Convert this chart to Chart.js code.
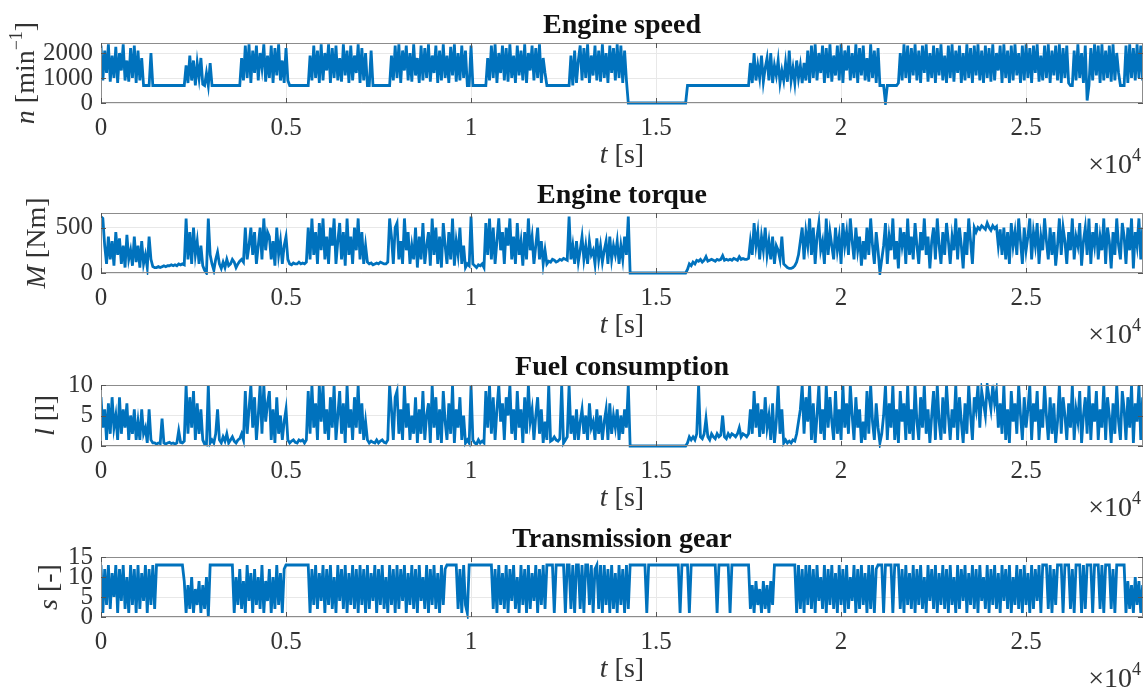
<!DOCTYPE html>
<html>
<head>
<meta charset="utf-8">
<title>Engine signals</title>
<script src="https://cdn.jsdelivr.net/npm/chart.js@4.4.1/dist/chart.umd.min.js"></script>
<style>
  body { margin: 0; background: #fff; }
  #wrap { position: relative; width: 1146px; height: 689px; }
  #wrap canvas { position: absolute; left: 0; top: 0; }
</style>
</head>
<body>
<div id="wrap">
  <canvas id="speedChart" width="1146" height="689"></canvas>
  <canvas id="torqueChart" width="1146" height="689"></canvas>
  <canvas id="fuelChart" width="1146" height="689"></canvas>
  <canvas id="gearChart" width="1146" height="689"></canvas>
</div>
<script>
// Sampling of the read-off values: one value every 50 s, 20 values per 1000 s row
const STEP = 50;
const T_MAX = 28160;

const xTicks = [0, 5000, 10000, 15000, 20000, 25000];
const xTickLabels = ['0', '0.5', '1', '1.5', '2', '2.5'];

const speedTicks = [0, 1000, 2000];
const torqueTicks = [0, 500];
const fuelTicks = [0, 5, 10];
const gearTicks = [0, 5, 10, 15];

// Engine speed n [min^-1]
const speed = [
  2300,900,2100,1200,2350,850,1900,1000,2250,800,2000,1300,2350,900,1700,850,2200,1000,2300,800,
  2100,900,1800,700,700,700,700,2000,700,700,700,700,700,700,700,700,700,700,700,700,
  700,700,700,700,700,700,1500,800,1900,900,1700,700,1600,1000,1800,750,700,1200,700,1600,
  700,700,700,700,700,700,700,700,700,700,700,700,700,700,700,700,1800,900,2300,1000,
  2350,800,2100,1200,2300,900,2000,1400,2350,850,1900,1000,2300,800,2200,1100,2350,900,1700,800,
  2200,900,700,700,700,700,700,700,700,700,700,700,700,1900,900,2300,1000,2100,800,2350,
  900,2000,1300,2350,800,2200,1000,2300,900,1800,850,2350,1100,2100,800,2300,900,1900,1200,2350,
  800,2200,900,2000,700,700,2100,700,700,700,700,700,700,700,700,700,700,1900,900,2300,
  1000,2350,800,2100,1300,2300,900,2000,850,2350,1100,1800,800,2300,900,2200,1000,2350,850,1900,
  1200,2300,800,2100,900,2350,1000,1900,800,2250,1100,2350,850,2000,900,2300,1000,2100,700,700,
  2300,700,700,700,700,700,700,700,700,1800,900,2300,1000,2350,800,2000,1200,2300,900,2200,
  850,2350,1000,1900,800,2300,1100,2100,900,2350,800,2000,1300,2300,900,2200,1000,2350,800,1800,
  1200,700,700,700,700,700,700,700,700,700,700,700,700,700,1900,700,2100,800,1700,2300,
  900,2200,1000,2350,800,1900,1100,2300,900,2100,850,2350,1000,2000,800,2300,1200,2200,900,2350,
  1000,2300,800,2100,900,0,0,0,0,0,0,0,0,0,0,0,0,0,0,0,
  0,0,0,0,0,0,0,0,0,0,0,0,0,0,0,0,0,700,700,700,
  700,700,700,700,700,700,700,700,700,700,700,700,700,700,700,700,700,700,700,700,
  700,700,700,700,700,700,700,700,700,700,700,1600,800,2000,900,1500,1000,1900,850,1400,
  1800,900,2000,800,1500,1100,1700,800,1300,900,1600,850,2100,900,1400,800,1700,1000,1500,800,
  1600,900,2100,800,2300,1000,2350,900,2000,1200,2300,800,2200,1000,2350,850,1900,1100,2300,900,
  2350,800,2100,1300,2300,900,2000,1000,2350,800,2200,1100,2300,900,1800,850,2350,1000,2100,800,
  2200,700,700,700,0,700,700,700,700,700,700,800,2000,900,2350,1000,2300,800,2200,1100,
  2350,900,2100,800,2300,1200,2350,850,2000,1000,2300,800,2200,1100,2350,900,1900,800,2300,1000,
  2350,850,2100,1200,2300,800,2000,900,2350,1000,2200,800,2300,1100,2350,900,2100,800,2300,1000,
  2200,850,2350,900,2000,1300,2300,800,2350,1000,2100,800,2300,900,2350,1100,2000,800,2300,900,
  2350,1000,2200,800,2300,1200,2350,850,1900,900,2300,1000,2350,800,2100,1100,2300,900,2350,800,
  2200,1000,2300,800,700,700,2100,900,2350,1000,2000,800,2300,100,700,2200,900,2350,1100,2300,
  800,2350,900,2100,1000,2300,850,2350,900,2000,1200,700,700,700,2300,800,2350,1000,2200,900,
  2350,1000,2300,900
];

// Engine torque M [Nm]
const torque = [
  620,600,300,100,400,150,350,80,450,200,380,100,300,60,420,150,250,80,400,120,
  300,60,350,100,200,60,400,150,70,60,60,70,60,70,80,70,80,80,90,80,
  90,80,100,90,100,90,600,150,450,100,500,200,350,100,300,80,30,0,600,200,
  100,30,150,230,100,50,120,60,150,80,100,150,120,60,100,130,150,120,500,150,
  300,500,200,450,100,300,500,150,600,250,450,400,150,350,80,500,200,350,100,300,
  400,150,100,90,110,100,100,120,100,110,100,120,500,150,600,200,450,100,550,250,
  600,150,400,100,500,300,600,100,350,550,150,450,80,600,200,400,100,500,250,600,
  150,450,100,300,120,100,110,90,100,110,100,120,110,100,100,120,600,400,100,500,
  550,150,350,100,600,250,450,100,300,150,500,60,400,150,550,100,300,450,80,600,
  200,500,100,400,60,550,300,100,450,150,600,80,350,200,500,100,300,60,100,80,
  620,100,80,60,90,80,100,60,550,200,600,150,500,100,350,600,250,450,100,500,
  300,600,150,400,100,550,200,350,80,450,150,600,250,400,100,300,500,150,350,100,
  250,100,130,120,150,140,120,130,150,140,160,150,140,620,150,300,100,350,120,250,
  400,150,300,100,350,200,250,100,380,150,300,120,250,350,100,400,150,300,200,350,
  100,300,150,400,200,620,0,0,0,0,0,0,0,0,0,0,0,0,0,0,
  0,0,0,0,0,0,0,0,0,0,0,0,0,0,0,0,0,40,100,80,
  120,100,140,130,150,120,140,180,130,140,150,140,130,150,140,150,190,140,150,140,
  150,140,160,150,140,180,150,160,150,150,160,350,200,550,300,450,150,400,250,500,
  200,350,150,400,100,300,250,150,400,100,80,60,50,50,60,80,120,200,350,500,
  150,450,300,600,200,500,100,400,550,250,350,100,600,200,450,300,150,500,250,400,
  100,550,300,450,200,600,350,150,500,250,400,80,350,150,500,200,600,300,100,450,
  250,0,150,300,550,100,400,250,600,150,350,50,500,300,450,100,600,200,400,150,
  550,300,100,450,250,600,200,400,50,350,500,150,600,300,100,450,200,550,350,100,
  400,250,600,150,500,300,50,450,200,600,350,100,500,450,500,480,520,500,480,550,
  500,470,520,490,510,300,480,200,500,150,450,100,550,300,450,200,600,350,100,500,
  250,400,600,150,450,300,550,100,400,250,600,350,150,500,200,450,80,300,600,200,
  500,350,100,450,250,600,150,400,300,550,80,350,500,200,600,100,450,300,550,150,
  400,250,600,100,500,350,50,450,200,600,300,150,550,400,100,500,250,600,50,450,
  300,600,150,500
];

// Fuel consumption l [l]
const fuel = [
  8,3,6,1,7,2,8,3,5,1,8,2,6,3,7,1,5,2,6,1,
  4,1,6,2,3,0.5,6,1,0.5,0.5,0.3,0.5,0.4,4.5,0.5,0.3,0.5,0.6,0.4,0.5,
  0.3,0.5,2.5,0.6,0.5,0.8,10,2,8,3,9,1,7,2,6,1,0.3,0.2,10,0.5,
  1,0.5,2,6,1,0.5,1.5,0.8,2,0.5,1,1.5,0.8,0.5,1,1.2,2,1,9,2,
  6,10,3,8,1,5,10,2,10,4,7,9,1,6,0.5,8,2,5,1,4,
  6,1,0.5,0.8,1,0.6,0.5,1,0.8,1,0.5,1,9,2,10,3,7,1,10,4,
  10,2,6,1,8,3,10,1,5,9,2,7,0.5,10,3,6,1,8,3,10,
  2,7,1,4,1,0.5,0.8,0.6,0.5,1,0.5,0.8,1,0.6,0.5,1,10,6,1,8,
  9,2,6,1,10,3,7,1,5,2,8,0.5,6,2,9,1,5,7,0.5,10,
  3,8,1,6,0.5,9,4,1,7,2,10,0.5,6,3,8,1,5,0.5,1,0.5,
  10,1,0.5,0.3,1,0.5,0.8,0.5,9,3,10,2,8,1,6,10,4,7,1,8,
  5,10,2,6,1,9,3,6,0.5,8,2,10,4,6,1,5,8,2,6,0.5,
  4,1,10,0.8,1,1.5,1,0.8,1.2,10,0.5,1,1.5,10,2,5,1,6,1,4,
  6,2,5,1,7,3,4,1,6,2,5,1,4,6,1,7,2,5,3,6,
  1,5,2,6,3,10,0,0,0,0,0,0,0,0,0,0,0,0,0,0,
  0,0,0,0,0,0,0,0,0,0,0,0,0,0,0,0,0,0.5,1.5,1,
  1.5,1,2,10,1.5,1.2,2,4.5,1.5,1,2,1.5,1.2,2,1.5,1.8,5,1.5,1.2,2,
  1.5,2,1.8,1.5,2,3,1.5,2,1.8,1.5,2,6,2,9,3,7,1.5,6,2,8,
  3,5,1,7,0.5,4,10,2,6,0.5,1,0.5,0.8,0.5,1,0.8,2,4,6,10,
  2,8,4,10,1,7,0.5,5,10,2,6,1,10,3,8,4,1,9,2,6,
  1,10,3,7,2,10,5,1,8,3,6,0.5,4,1,9,2,10,4,1,7,
  3,0.5,2,5,10,1,7,3,10,1,6,0.5,9,4,7,1,10,2,6,1,
  10,4,1,8,3,10,2,6,0.5,5,9,1,10,4,1,8,2,10,5,1,
  6,3,10,1,8,4,0.5,7,2,10,5,1,8,6,10,3,9,7,5,10,
  8,6,10,7,9,3,7,2,10,1,6,0.5,9,4,7,2,10,5,1,8,
  3,6,10,1,7,4,9,1,6,3,10,5,1,8,2,7,0.5,4,10,2,
  8,5,1,7,3,10,1,6,4,9,0.5,5,8,2,10,1,7,4,9,1,
  6,3,10,1,8,5,0.5,7,2,10,4,1,9,6,1,8,3,10,0.5,7,
  4,10,1,8
];

// Transmission gear s [-]
const gear = [
  13,1,12,3,13,2,11,5,13,1,12,4,13,2,10,1,13,3,12,1,
  13,2,11,4,13,1,12,3,13,2,13,13,13,13,13,13,13,13,13,13,
  13,13,13,13,13,9,1,8,2,10,1,7,3,9,1,8,2,10,0,13,
  13,13,13,13,13,13,13,13,13,13,13,13,1,10,3,12,2,9,1,13,
  4,11,1,12,3,10,2,13,1,9,4,12,1,10,2,13,3,11,1,12,
  13,13,13,13,13,13,13,13,13,13,13,13,13,1,12,3,13,2,11,4,
  13,1,12,3,13,2,10,1,13,4,12,2,13,1,11,3,13,2,12,1,
  13,3,12,1,13,2,11,4,13,1,12,3,13,2,10,1,13,3,12,1,
  13,2,12,4,13,1,11,3,13,2,12,1,13,4,10,2,13,1,12,3,
  13,2,11,1,13,3,12,13,13,13,13,13,13,2,12,1,13,3,1,13,
  13,13,13,13,13,13,13,13,13,13,13,13,2,12,1,13,3,11,2,13,
  1,12,4,13,2,10,1,13,3,12,1,13,2,11,4,13,1,12,3,13,
  2,13,13,13,13,1,13,13,13,13,13,1,13,13,2,13,1,13,13,2,
  13,1,13,13,3,13,1,12,13,2,13,1,13,3,12,1,13,2,11,1,
  13,3,12,1,13,2,13,13,13,13,13,13,13,13,13,1,13,13,13,13,
  13,13,13,13,13,13,13,13,13,13,13,13,13,1,13,13,13,13,1,13,
  13,13,13,13,13,13,13,13,13,13,13,13,13,1,13,13,13,13,13,13,
  1,13,13,13,13,13,13,13,13,13,13,2,8,1,9,3,7,1,9,2,
  8,1,9,3,13,13,13,13,13,13,13,13,13,13,13,13,1,13,2,12,
  1,13,3,13,2,12,1,13,4,10,2,13,1,12,3,13,2,11,1,13,
  3,12,1,13,2,10,4,13,1,12,2,13,3,11,1,13,2,13,1,12,
  13,13,13,1,13,13,13,13,1,13,13,13,2,12,1,13,3,11,2,13,
  1,12,3,13,2,10,1,13,4,12,2,13,1,11,3,13,2,12,1,13,
  3,10,1,13,2,12,4,13,1,11,3,13,2,12,1,13,4,10,2,13,
  1,12,3,13,2,11,1,13,4,12,2,13,1,10,3,13,2,12,1,13,
  3,11,1,13,2,12,4,13,1,13,13,13,2,13,1,12,3,13,13,13,
  1,13,13,13,2,12,1,13,13,13,1,13,2,13,13,13,1,13,13,13,
  2,13,1,13,13,13,2,12,1,13,13,13,13,13,1,9,2,8,1,10,
  3,9,1,8
];

const SERIF = '"Liberation Serif", "Times New Roman", serif';
const LINE_BLUE = '#0072BD';

const fonts = {
  n: `28px ${SERIF}`,
  i: `italic 28px ${SERIF}`,
  s: `18px ${SERIF}`,
  tick: `25px ${SERIF}`
};

// draw a label made of parts with different styles, centred at cx
function drawParts(ctx, parts, cx, cy, align) {
  let total = 0;
  const widths = parts.map(([txt, st]) => {
    ctx.font = fonts[st];
    const w = ctx.measureText(txt).width;
    total += w;
    return w;
  });
  let x = align === 'right' ? cx - total : cx - total / 2;
  ctx.textAlign = 'left';
  ctx.textBaseline = 'middle';
  parts.forEach(([txt, st], k) => {
    ctx.font = fonts[st];
    ctx.fillText(txt, x, st === 's' ? cy - 10 : cy);
    x += widths[k];
  });
}

const panelText = {
  id: 'panelText',
  afterDraw(chart, args, o) {
    const { ctx, chartArea: a } = chart;
    const xs = chart.scales.x, ys = chart.scales.y;
    const midX = (a.left + a.right) / 2;
    ctx.save();

    // MATLAB-like box and inward ticks
    ctx.strokeStyle = '#8c8c8c';
    ctx.lineWidth = 1;
    ctx.strokeRect(a.left + 0.5, a.top + 0.5, a.right - a.left - 1, a.bottom - a.top - 1);
    ctx.strokeStyle = '#555';
    ctx.beginPath();
    xTicks.forEach(v => {
      const px = Math.round(xs.getPixelForValue(v)) + 0.5;
      ctx.moveTo(px, a.bottom); ctx.lineTo(px, a.bottom - 5);
      ctx.moveTo(px, a.top); ctx.lineTo(px, a.top + 5);
    });
    o.yTicks.forEach(v => {
      const py = Math.round(ys.getPixelForValue(v)) + 0.5;
      ctx.moveTo(a.left, py); ctx.lineTo(a.left + 5, py);
      ctx.moveTo(a.right, py); ctx.lineTo(a.right - 5, py);
    });
    ctx.stroke();

    // tick labels
    ctx.fillStyle = '#333';
    ctx.font = fonts.tick;
    ctx.textBaseline = 'middle';
    ctx.textAlign = 'center';
    xTicks.forEach((v, k) => ctx.fillText(xTickLabels[k], xs.getPixelForValue(v), a.bottom + 25));
    ctx.textAlign = 'right';
    o.yTicks.forEach(v => ctx.fillText(String(v), a.left - 8, ys.getPixelForValue(v)));

    // title
    ctx.fillStyle = '#111';
    ctx.font = `bold 28px ${SERIF}`;
    ctx.textAlign = 'center';
    ctx.textBaseline = 'alphabetic';
    ctx.fillText(o.title, midX, a.top - 10);

    // x label and exponent
    ctx.fillStyle = '#333';
    drawParts(ctx, [['t', 'i'], [' [s]', 'n']], midX, a.bottom + 53);
    drawParts(ctx, [['\u00d710', 'n'], ['4', 's']], a.right - 2, a.bottom + 63, 'right');

    // y label, rotated
    ctx.translate(o.yLabelX, (a.top + a.bottom) / 2);
    ctx.rotate(-Math.PI / 2);
    drawParts(ctx, o.yLabel, 0, 0);
    ctx.restore();
  }
};

function makePanel(canvasId, values, cfg) {
  const points = values.map((v, i) => ({ x: i * STEP, y: v }));
  return new Chart(document.getElementById(canvasId), {
    type: 'line',
    data: {
      datasets: [{
        data: points,
        borderColor: LINE_BLUE,
        borderWidth: 2.8,
        pointRadius: 0,
        tension: 0,
        fill: false,
        clip: { left: 0, right: 0, top: 2, bottom: 2 }
      }]
    },
    options: {
      responsive: false,
      animation: false,
      events: [],
      layout: { padding: { left: 41, right: 3, top: cfg.top, bottom: 689 - cfg.bottom - 40 } },
      plugins: {
        legend: { display: false },
        tooltip: { enabled: false },
        panelText: { title: cfg.title, yLabel: cfg.yLabel, yLabelX: cfg.yLabelX, yTicks: cfg.yTicks }
      },
      scales: {
        x: {
          type: 'linear',
          min: 0,
          max: T_MAX,
          afterBuildTicks: s => { s.ticks = xTicks.map(v => ({ value: v })); },
          afterFit: s => { s.height = 40; },
          grid: { color: '#e8e8e8', drawTicks: false },
          border: { display: false },
          ticks: { display: false }
        },
        y: {
          min: 0,
          max: cfg.yMax,
          afterBuildTicks: s => { s.ticks = cfg.yTicks.map(v => ({ value: v })); },
          afterFit: s => { s.width = 60; },
          grid: { color: '#e8e8e8', drawTicks: false },
          border: { display: false },
          ticks: { display: false }
        }
      }
    },
    plugins: [panelText]
  });
}

makePanel('speedChart', speed, {
  title: 'Engine speed', yMax: 2400, yTicks: speedTicks, top: 43, bottom: 103, yLabelX: 27,
  yLabel: [['n', 'i'], [' [min', 'n'], ['\u22121', 's'], [']', 'n']]
});
makePanel('torqueChart', torque, {
  title: 'Engine torque', yMax: 660, yTicks: torqueTicks, top: 213, bottom: 273, yLabelX: 38,
  yLabel: [['M', 'i'], [' [Nm]', 'n']]
});
makePanel('fuelChart', fuel, {
  title: 'Fuel consumption', yMax: 10, yTicks: fuelTicks, top: 385, bottom: 446, yLabelX: 47,
  yLabel: [['l', 'i'], [' [l]', 'n']]
});
makePanel('gearChart', gear, {
  title: 'Transmission gear', yMax: 15, yTicks: gearTicks, top: 557, bottom: 617, yLabelX: 50,
  yLabel: [['s', 'i'], [' [-]', 'n']]
});
</script>
</body>
</html>
